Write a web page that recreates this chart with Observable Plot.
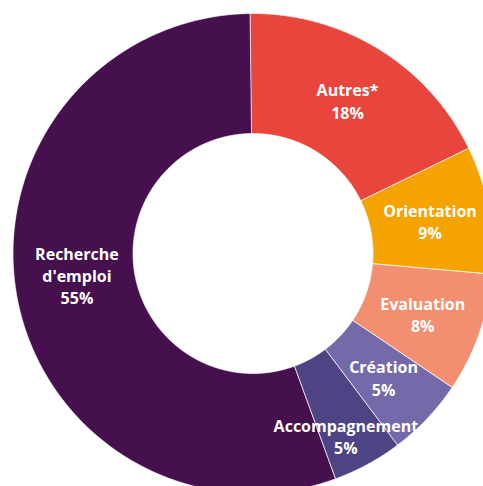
<!DOCTYPE html>
<html>
<head>
<meta charset="utf-8">
<script src="https://cdn.jsdelivr.net/npm/d3@7"></script>
<script src="https://cdn.jsdelivr.net/npm/@observablehq/plot@0.6"></script>
<style>
  html, body { margin: 0; padding: 0; background: #fff; overflow: hidden; }
  #chart { width: 483px; height: 486px; overflow: hidden; }
</style>
</head>
<body>
<div id="chart"></div>
<script>
// Data
const categories = ["Autres*", "Orientation", "Evaluation", "Création", "Accompagnement", "Recherche d'emploi"];
const shares = [18.0, 8.6, 8.05, 5.3, 4.7, 55.4];
const pctLabels = ["18%", "9%", "8%", "5%", "5%", "55%"];
const colors = ["#E8453C", "#F5A300", "#F28F70", "#756AA9", "#4F4483", "#46104E"];

const W = 483, H = 486;
const cx = 252.5, cy = 253;   // center in pixels
const R = 240, r0 = 120;      // outer / inner radius in pixels
const startDeg = -0.7;
// label nudges (pixels) where the original placed labels away from the centroid
const labelNudge = {"Accompagnement": [7, -24], "Recherche d'emploi": [1, 11]};

const pie = d3.pie().sort(null).value(d => d.value)
  .startAngle(startDeg * Math.PI / 180)
  .endAngle(startDeg * Math.PI / 180 + 2 * Math.PI);
const rows = categories.map((c, i) => ({label: c, value: shares[i], pct: pctLabels[i]}));
const arcs = pie(rows);

// polygon outline of each slice (angle measured clockwise from 12 o'clock)
const pts = [];
for (const a of arcs) {
  const n = Math.max(4, Math.ceil((a.endAngle - a.startAngle) / 0.005));
  for (let k = 0; k <= n; k++) {
    const t = a.startAngle + (a.endAngle - a.startAngle) * k / n;
    pts.push({label: a.data.label, x: R * Math.sin(t), y: R * Math.cos(t)});
  }
  for (let k = n; k >= 0; k--) {
    const t = a.startAngle + (a.endAngle - a.startAngle) * k / n;
    pts.push({label: a.data.label, x: r0 * Math.sin(t), y: r0 * Math.cos(t)});
  }
}
const labelsData = arcs.map(a => {
  const m = (a.startAngle + a.endAngle) / 2, rr = (R + r0) / 2;
  const [nx, ny] = labelNudge[a.data.label] || [0, 0];
  return {
    x: rr * Math.sin(m) + nx, y: rr * Math.cos(m) + ny,
    text: a.data.label.replace(" ", "\n") + "\n" + a.data.pct
  };
});

const chart = Plot.plot({
  width: W, height: H,
  margin: 0,
  x: {axis: null, domain: [-cx, W - cx], range: [0, W]},
  y: {axis: null, domain: [cy, cy - H], range: [0, H]},
  color: {domain: categories, range: colors},
  style: {background: "white", fontFamily: "'Open Sans', sans-serif"},
  marks: [
    Plot.line(pts, {x: "x", y: "y", z: "label", fill: "label", stroke: "white",
      strokeWidth: 0.7, curve: "linear-closed", clip: true}),
    Plot.text(labelsData, {x: "x", y: "y", text: "text", fill: "white",
      fontSize: 16, fontWeight: "bold", lineHeight: 1.4, fontFamily: "'Open Sans', sans-serif"})
  ]
});
document.getElementById("chart").appendChild(chart);
</script>
</body>
</html>
